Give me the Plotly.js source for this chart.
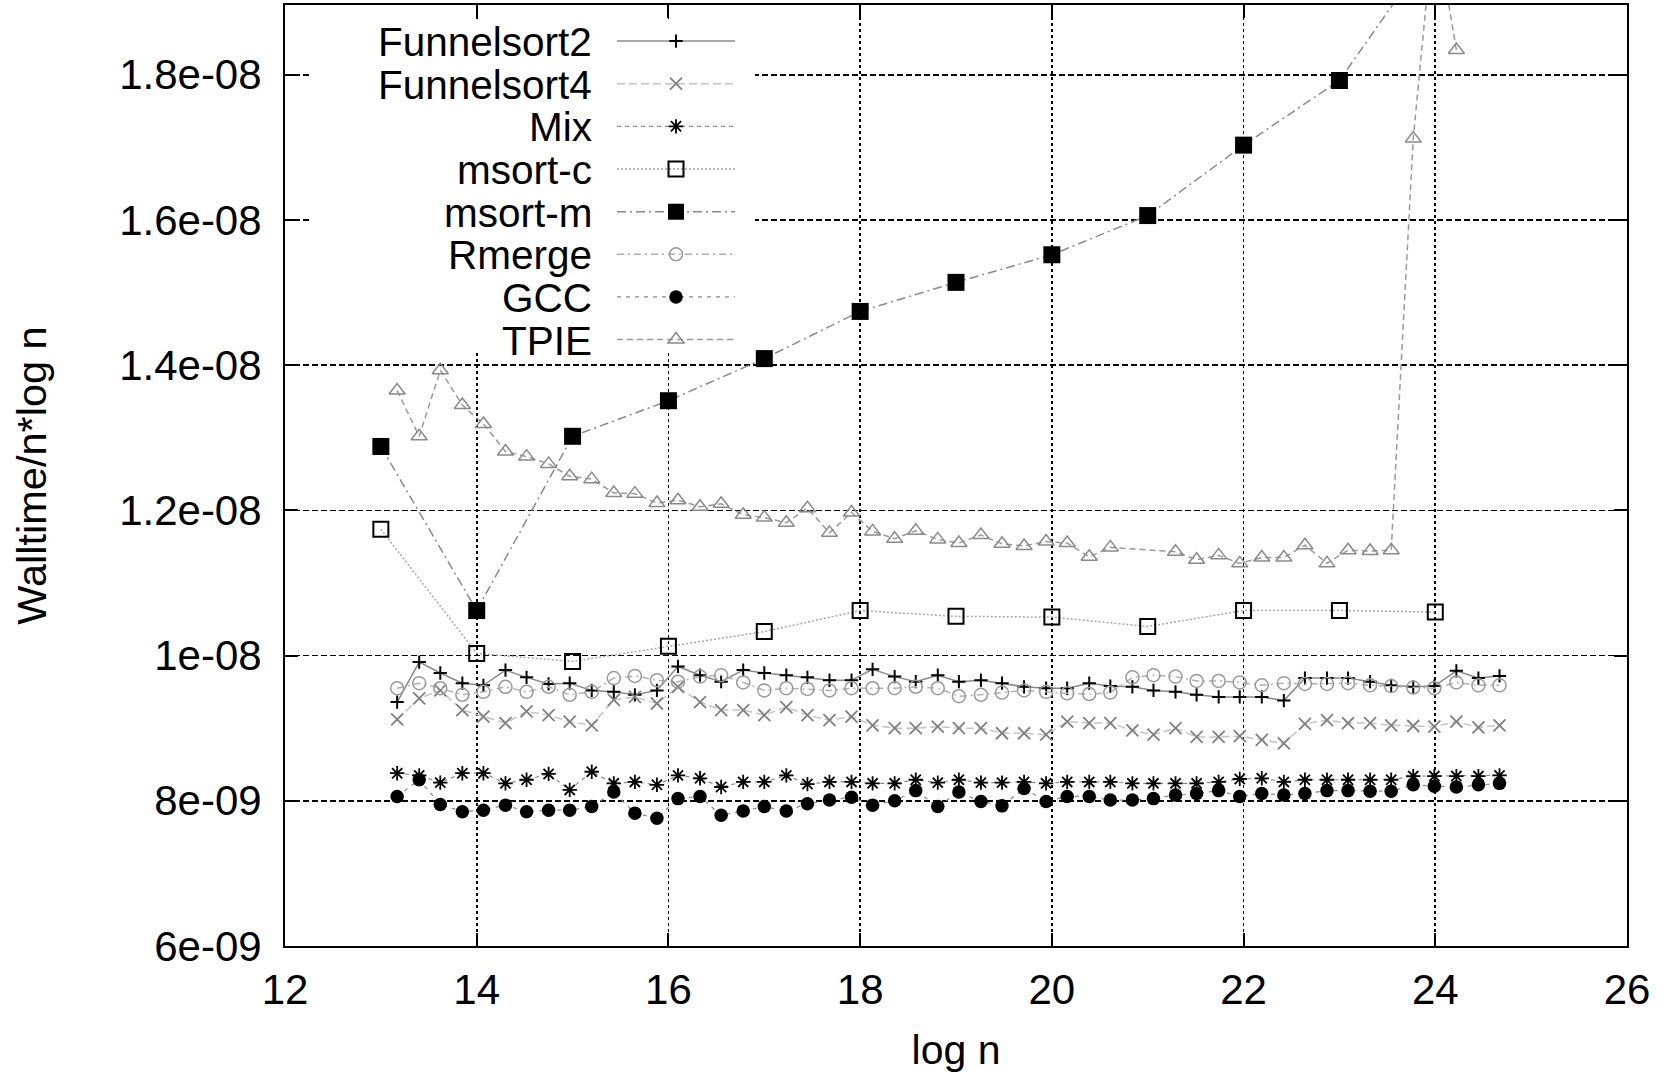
<!DOCTYPE html>
<html>
<head>
<meta charset="utf-8">
<script src="https://cdn.plot.ly/plotly-3.0.1.min.js"></script>
<style>
html,body{margin:0;padding:0;background:#fff;}
#chart{width:1665px;height:1073px;}
</style>
</head>
<body>
<div id="chart"></div>
<script>
// ---------- data (walltime / n*log n, in units of 1e-9) ----------
const seriesNames = ['Funnelsort2','Funnelsort4','Mix','msort-c','msort-m','Rmerge','GCC','TPIE'];

// common x samples (log n) for Funnelsort2, Funnelsort4, Mix, Rmerge, GCC
const logN = [13.17,13.40,13.62,13.85,14.07,14.30,14.52,14.75,14.97,15.20,
              15.43,15.65,15.88,16.10,16.33,16.55,16.78,17.00,17.23,17.45,
              17.68,17.91,18.13,18.36,18.58,18.81,19.03,19.26,19.48,19.71,
              19.94,20.16,20.39,20.61,20.84,21.06,21.29,21.51,21.74,21.96,
              22.19,22.42,22.64,22.87,23.09,23.32,23.54,23.77,23.99,24.22,
              24.45,24.67];

const funnelsort2 = [9.36,9.91,9.76,9.62,9.59,9.80,9.70,9.61,9.62,9.52,
                     9.50,9.46,9.52,9.85,9.73,9.64,9.80,9.76,9.73,9.70,
                     9.66,9.66,9.81,9.71,9.64,9.73,9.64,9.66,9.62,9.57,
                     9.55,9.55,9.62,9.58,9.57,9.52,9.50,9.46,9.43,9.43,
                     9.43,9.38,9.69,9.69,9.69,9.64,9.59,9.57,9.58,9.79,
                     9.69,9.72];

const funnelsort4 = [9.12,9.41,9.52,9.25,9.16,9.07,9.23,9.18,9.09,9.04,
                     9.39,9.43,9.34,9.57,9.36,9.25,9.25,9.18,9.29,9.18,
                     9.11,9.16,9.04,9.00,9.00,9.02,9.00,9.00,8.93,8.93,
                     8.91,9.09,9.07,9.07,8.97,8.91,9.00,8.88,8.88,8.89,
                     8.84,8.79,9.06,9.11,9.07,9.07,9.04,9.03,9.02,9.09,
                     9.01,9.04];

const mix = [8.38,8.35,8.25,8.38,8.38,8.24,8.29,8.37,8.15,8.40,
             8.24,8.26,8.22,8.35,8.31,8.19,8.26,8.26,8.35,8.23,
             8.26,8.26,8.24,8.24,8.29,8.25,8.29,8.25,8.25,8.26,
             8.24,8.26,8.26,8.26,8.24,8.24,8.24,8.24,8.26,8.30,
             8.31,8.26,8.29,8.29,8.29,8.29,8.29,8.34,8.34,8.34,
             8.34,8.35];

const rmerge = [9.55,9.62,9.55,9.46,9.50,9.57,9.50,9.57,9.46,9.50,
                9.69,9.72,9.66,9.64,9.71,9.73,9.63,9.52,9.55,9.54,
                9.52,9.55,9.55,9.55,9.57,9.55,9.44,9.46,9.49,9.52,
                9.50,9.48,9.47,9.49,9.70,9.73,9.71,9.65,9.65,9.63,
                9.59,9.62,9.61,9.61,9.62,9.59,9.58,9.56,9.55,9.63,
                9.59,9.59];

const gcc = [8.06,8.29,7.95,7.85,7.87,7.94,7.85,7.87,7.87,7.92,
             8.12,7.83,7.76,8.03,8.06,7.80,7.86,7.92,7.86,7.96,
             8.01,8.05,7.94,8.00,8.14,7.92,8.12,7.99,7.93,8.17,
             7.99,8.06,8.06,8.01,8.01,8.03,8.08,8.10,8.14,8.06,
             8.10,8.08,8.10,8.14,8.14,8.13,8.13,8.22,8.20,8.19,
             8.22,8.24];

// msort-c / msort-m measured at integer log n
const logNInt = [13,14,15,16,17,18,19,20,21,22,23,24];
const msortC = [11.74,10.03,9.92,10.13,10.33,10.62,10.54,10.53,10.40,10.62,10.62,10.60];
const msortM = [12.88,10.62,13.02,13.51,14.09,14.74,15.14,15.52,16.06,17.03,17.92,19.80];

// TPIE
const logNTpie = [13.17,13.40,13.62,13.85,14.07,14.30,14.52,14.75,14.97,15.20,
                  15.43,15.65,15.88,16.10,16.33,16.55,16.78,17.00,17.23,17.45,
                  17.68,17.91,18.13,18.36,18.58,18.81,19.03,19.26,19.48,19.71,
                  19.94,20.16,20.39,20.61,21.29,21.51,21.74,21.96,22.19,22.42,
                  22.64,22.87,23.09,23.32,23.54,23.77,23.99,24.22];
const tpie = [13.65,13.02,13.93,13.45,13.19,12.81,12.74,12.64,12.47,12.43,
              12.24,12.23,12.10,12.14,12.05,12.09,11.94,11.90,11.83,12.03,
              11.69,11.97,11.71,11.61,11.72,11.60,11.55,11.66,11.54,11.51,
              11.57,11.55,11.36,11.49,11.43,11.32,11.38,11.27,11.35,11.35,
              11.52,11.27,11.45,11.44,11.45,17.12,20.15,18.34];

// axis ticks
const xTickVals = [12,14,16,18,20,22,24,26];
const xTickText = ['12','14','16','18','20','22','24','26'];
const yTickVals = [6e-9,8e-9,1e-8,1.2e-8,1.4e-8,1.6e-8,1.8e-8];
const yTickText = ['6e-09','8e-09','1e-08','1.2e-08','1.4e-08','1.6e-08','1.8e-08'];

// ---------- build ----------
const NS = 1e-9;
const sec = a => a.map(v => v * NS);
const FONT = '"Liberation Sans", Arial, Helvetica, sans-serif';

function tr(x, y, line, marker){
  return {x: x, y: sec(y), type:'scatter', mode:'lines+markers', name:'',
          line: line, marker: marker, hoverinfo:'x+y', cliponaxis:true};
}

const traces = [
  tr(logN, funnelsort2, {color:'#8a8a8a', width:1.5},
     {symbol:'cross-thin-open', size:9.5, color:'#000', line:{color:'#000', width:2}}),
  tr(logN, funnelsort4, {color:'#c4c4c4', width:1.5, dash:'8px,4px'},
     {symbol:'x-thin-open', size:12, color:'#808080', line:{color:'#808080', width:1.8}}),
  tr(logN, mix, {color:'#8a8a8a', width:1.2, dash:'4px,4px'},
     {symbol:'asterisk-open', size:12, color:'#000', line:{color:'#000', width:1.8}}),
  tr(logNInt, msortC, {color:'#a8a8a8', width:1.5, dash:'2px,2px'},
     {symbol:'square-open', size:15, color:'#000', line:{color:'#000', width:2}}),
  tr(logNInt, msortM, {color:'#8a8a8a', width:1.5, dash:'9px,4px,2px,4px'},
     {symbol:'square', size:17, color:'#000', line:{width:0}}),
  tr(logN, rmerge, {color:'#b0b0b0', width:1.5, dash:'7px,4px,2px,4px'},
     {symbol:'circle-open', size:13, color:'#9a9a9a', line:{color:'#9a9a9a', width:1.5}}),
  tr(logN, gcc, {color:'#8a8a8a', width:1.2, dash:'4px,5px'},
     {symbol:'circle', size:13.5, color:'#000', line:{width:0}}),
  tr(logNTpie, tpie, {color:'#9a9a9a', width:1.5, dash:'6px,4px'},
     {symbol:'triangle-up-open', size:14, color:'#8a8a8a', line:{color:'#8a8a8a', width:1.5}})
];

const T = 5, B = 127, L = 285, R = 38;
const plotH = 1073 - T - B;
const plotW = 1665 - L - R;
const pyToPaper = py => 1 - (py - T) / plotH;
const pxToPaper = px => (px - L) / plotW;

const rowTop = 41, rowStep = 42.65;
const annotations = seriesNames.map((n, i) => ({
  xref:'paper', yref:'paper', x: pxToPaper(594), y: pyToPaper(rowTop + rowStep * i + 1),
  xanchor:'right', yanchor:'middle', text:n, showarrow:false,
  font:{family:FONT, size:40.5, color:'#000'}
}));

const axisCommon = {
  ticks:'inside', ticklen:13, tickwidth:2, tickcolor:'#000',
  showline:true, linewidth:2, linecolor:'#000', mirror:'ticks',
  showgrid:true, gridcolor:'#000', gridwidth:1.6,
  zeroline:false, automargin:false,
  tickfont:{family:FONT, size:42, color:'#000'},
  tickmode:'array', fixedrange:true
};

const layout = {
  width:1665, height:1073,
  margin:{l:L, r:R, t:T, b:B, pad:0},
  paper_bgcolor:'#fff', plot_bgcolor:'#fff',
  font:{family:FONT, color:'#000'},
  showlegend:true,
  legend:{x: pxToPaper(612), y: pyToPaper(rowTop - 26.3), xanchor:'left', yanchor:'top',
          bgcolor:'rgba(0,0,0,0)', borderwidth:0, itemwidth:118,
          font:{family:FONT, size:30.5, color:'#000'}, tracegroupgap:0,
          itemclick:false, itemdoubleclick:false},
  xaxis: Object.assign({}, axisCommon, {
    range:[12,26], tickvals:xTickVals, ticktext:xTickText, griddash:'3px,3px',
    ticklabelstandoff:6,
    title:{text:'log n', font:{family:FONT, size:41, color:'#000'}, standoff:30}
  }),
  yaxis: Object.assign({}, axisCommon, {
    range:[6e-9, 1.896e-8], tickvals:yTickVals, ticktext:yTickText, griddash:'6px,3px',
    ticklabelstandoff:13,
    title:{text:'Walltime/n*log n', font:{family:FONT, size:41.5, color:'#000'}, standoff:60}
  }),
  // white key box (gnuplot style) hiding the grid behind the legend
  shapes:[{
    type:'rect', xref:'paper', yref:'paper', layer:'above',
    x0: pxToPaper(310), x1: pxToPaper(755), y0: pyToPaper(352), y1: pyToPaper(19),
    fillcolor:'#fff', line:{width:0}
  }],
  annotations: annotations
};

Plotly.newPlot('chart', traces, layout, {displayModeBar:false, staticPlot:true});
</script>
</body>
</html>
